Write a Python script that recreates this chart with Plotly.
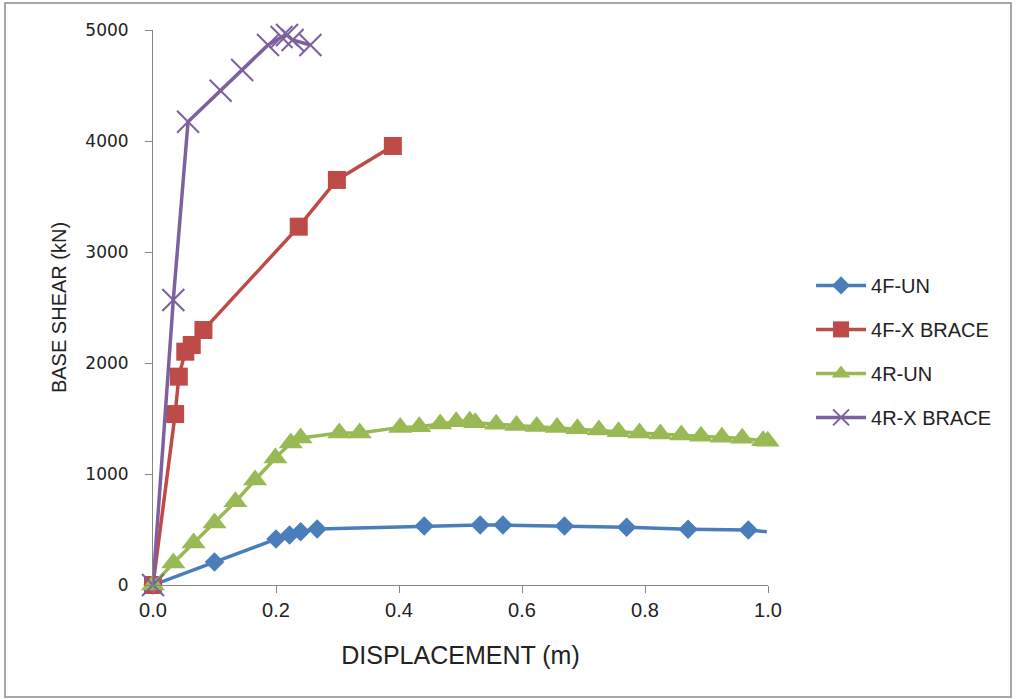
import plotly.graph_objects as go

# ---- data ----
x_4f_un = [0, 0.1, 0.2, 0.222, 0.24, 0.267, 0.441, 0.532, 0.569, 0.669, 0.77, 0.87, 0.968, 0.998]
y_4f_un = [0, 207, 414, 450, 480, 505, 531, 540, 540, 531, 520, 502, 495, 480]

x_4f_x = [0, 0.036, 0.042, 0.0525, 0.063, 0.082, 0.237, 0.299, 0.39]
y_4f_x = [0, 1540, 1877, 2102, 2162, 2297, 3228, 3649, 3955]

x_4r_un = [0, 0.033, 0.066, 0.1, 0.134, 0.166, 0.199, 0.224, 0.24, 0.303, 0.336,
           0.402, 0.433, 0.467, 0.493, 0.515, 0.524, 0.558, 0.591, 0.624, 0.657,
           0.690, 0.725, 0.757, 0.791, 0.825, 0.859, 0.891, 0.925, 0.958, 0.992, 0.9995]
y_4r_un = [0, 198, 378, 559, 750, 946, 1144, 1279, 1324, 1369, 1369,
           1420, 1426, 1450, 1470, 1475, 1462, 1448, 1438, 1428, 1418,
           1408, 1397, 1381, 1369, 1360, 1351, 1340, 1330, 1321, 1300, 1295]

x_4r_x = [0, 0.033, 0.057, 0.11, 0.145, 0.187, 0.209, 0.218, 0.227, 0.256]
y_4r_x = [0, 2568, 4174, 4453, 4640, 4865, 4937, 4955, 4910, 4865]

names = ["4F-UN", "4F-X BRACE", "4R-UN", "4R-X BRACE"]
colors = ["#4A7EBB", "#BE4B48", "#98B954", "#7D60A0"]

x_ticks = [0, 0.2, 0.4, 0.6, 0.8, 1.0]
x_tick_text = ["0.0", "0.2", "0.4", "0.6", "0.8", "1.0"]
y_ticks = [0, 1000, 2000, 3000, 4000, 5000]

fig = go.Figure()

blue_sizes = [15] * (len(x_4f_un) - 1) + [0]
fig.add_trace(go.Scatter(x=x_4f_un, y=y_4f_un, name=names[0], mode="lines+markers",
                         legendgroup="a", cliponaxis=False,
                         line=dict(color=colors[0], width=3.5),
                         marker=dict(symbol="diamond", size=blue_sizes, color=colors[0],
                                     opacity=1, line=dict(width=0))))
fig.add_trace(go.Scatter(x=x_4f_x, y=y_4f_x, name=names[1], mode="lines+markers",
                         legendgroup="b", cliponaxis=False,
                         line=dict(color=colors[1], width=3.5),
                         marker=dict(symbol="square", size=18, color=colors[1],
                                     opacity=1, line=dict(width=0))))
fig.add_trace(go.Scatter(x=x_4r_un, y=y_4r_un, name=names[2], mode="lines+markers",
                         legendgroup="c", cliponaxis=False,
                         line=dict(color=colors[2], width=3.5),
                         marker=dict(symbol="triangle-up", size=21, color=colors[2],
                                     opacity=1, line=dict(width=0))))
fig.add_trace(go.Scatter(x=x_4r_x, y=y_4r_x, name=names[3], mode="lines+markers",
                         legendgroup="d", cliponaxis=False,
                         line=dict(color=colors[3], width=3.5),
                         marker=dict(symbol="x-thin", size=22, color=colors[3], opacity=1,
                                     line=dict(color=colors[3], width=2))))

axis_color = "#868686"
narrow = "Liberation Sans Narrow, Arial Narrow, Liberation Sans, sans-serif"

fig.update_xaxes(range=[0, 1.0], tickvals=x_ticks, ticktext=x_tick_text,
                 showgrid=False, zeroline=False, showline=True, linecolor=axis_color,
                 linewidth=1, ticks="outside", ticklen=7, tickcolor=axis_color,
                 tickfont=dict(family=narrow, size=20, color="#222"),
                 title=dict(text="DISPLACEMENT (m)", standoff=26,
                            font=dict(family=narrow, size=25, color="#222")))
fig.update_yaxes(range=[0, 5000], tickvals=y_ticks,
                 showgrid=False, zeroline=False, showline=True, linecolor=axis_color,
                 linewidth=1, ticks="outside", ticklen=7, tickcolor=axis_color,
                 ticklabelstandoff=13,
                 tickfont=dict(family="DejaVu Sans, sans-serif", size=17, color="#222"),
                 title=dict(text="BASE SHEAR (kN)", standoff=13,
                            font=dict(family=narrow, size=20, color="#222")))

fig.add_shape(type="rect", xref="paper", yref="paper",
              x0=(5 - 153) / 615, x1=(1011 - 153) / 615,
              y0=(585 - 697) / 555, y1=(585 - 3) / 555,
              line=dict(color="#8c8c8c", width=1.5), fillcolor="rgba(0,0,0,0)", layer="below")

fig.update_layout(
    width=1016, height=699,
    margin=dict(l=153, r=248, t=30, b=114),
    paper_bgcolor="white", plot_bgcolor="white",
    showlegend=True,
    legend=dict(x=1.07, y=0.575, xanchor="left", yanchor="top",
                font=dict(family="Liberation Sans, Arial, sans-serif", size=20, color="#222"),
                tracegroupgap=15, itemwidth=50, bgcolor="rgba(0,0,0,0)"),
)

fig.write_html("out.html")
